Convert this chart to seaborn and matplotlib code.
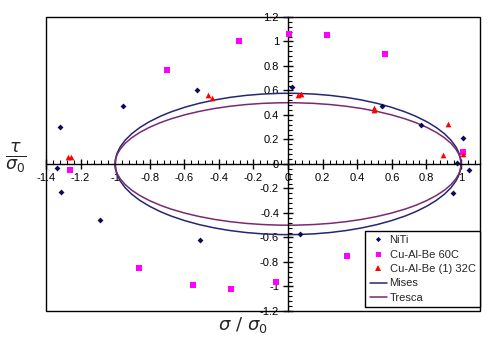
import numpy as np
import pandas as pd
import seaborn as sns
import matplotlib
matplotlib.use("Agg")
import matplotlib.pyplot as plt
from matplotlib.patches import Ellipse, Rectangle
from matplotlib.lines import Line2D
from matplotlib.ticker import MultipleLocator, FormatStrFormatter

# Normalised stress states (sigma/sigma0, tau/sigma0)
niti_sigma = [-1.318, -0.954, -0.526, -1.335, -1.312, -1.087, -0.509,
              0.023, 0.543, 0.769, 1.010, 0.977, 1.046, 0.069, 0.954]
niti_tau = [0.304, 0.477, 0.600, -0.030, -0.230, -0.460, -0.625,
            0.625, 0.476, 0.320, 0.214, 0.008, -0.050, -0.575, -0.240]

cab60_sigma = [-0.283, -0.700, -1.260, 0.006, 0.225, 0.561, 1.010,
               -0.861, -0.549, -0.329, -0.069, 0.341]
cab60_tau = [1.000, 0.770, -0.050, 1.060, 1.050, 0.895, 0.100,
             -0.846, -0.986, -1.020, -0.960, -0.750]

cab32_sigma = [-1.270, -1.258, -0.462, -0.439, 0.058, 0.075, 0.497,
               0.497, 0.925, 0.896, 1.010]
cab32_tau = [0.060, 0.060, 0.560, 0.540, 0.567, 0.570, 0.460,
             0.440, 0.330, 0.070, 0.080]

series_names = ["NiTi", "Cu-Al-Be 60C", "Cu-Al-Be (1) 32C"]
series_colors = ["#0a0a5a", "#ff00ff", "#ff0000"]
series_markers = ["D", "s", "^"]
series_area = [9, 14, 17]
series_sizes = [2.6, 3.6, 4.2]

# Yield criteria: semi-axes of the ellipses in (sigma, tau)
mises_axes = (1.0, 0.577)
tresca_axes = (1.0, 0.5)
mises_color = "#262673"
tresca_color = "#7a2a6e"

frames = [
    pd.DataFrame({"sigma": niti_sigma, "tau": niti_tau, "series": series_names[0]}),
    pd.DataFrame({"sigma": cab60_sigma, "tau": cab60_tau, "series": series_names[1]}),
    pd.DataFrame({"sigma": cab32_sigma, "tau": cab32_tau, "series": series_names[2]}),
]

sns.set_style("white")
plt.rcParams["font.family"] = ["Liberation Sans", "DejaVu Sans"]

fig = plt.figure(figsize=(5.0, 3.47), dpi=100)
ax = fig.add_axes([0.092, 0.104, 0.868, 0.847])

# Yield surfaces
for (a, b), col in [(mises_axes, mises_color), (tresca_axes, tresca_color)]:
    ax.add_patch(Ellipse((0, 0), 2 * a, 2 * b, fill=False, edgecolor=col,
                         linewidth=1.1, zorder=2))

for frame, col, mk, area in zip(frames, series_colors, series_markers, series_area):
    sns.scatterplot(data=frame, x="sigma", y="tau", color=col, marker=mk,
                    s=area, linewidth=0, legend=False, ax=ax, zorder=3)

ax.set_xlim(-1.4, 1.11)
ax.set_ylim(-1.2, 1.2)

# Axes through the origin, with a full frame around the plot
for side in ("left", "bottom"):
    ax.spines[side].set_position(("data", 0))
    ax.spines[side].set_color("black")
    ax.spines[side].set_linewidth(1.0)
for side in ("top", "right"):
    ax.spines[side].set_visible(False)
ax.add_patch(Rectangle((0, 0), 1, 1, transform=ax.transAxes, fill=False,
                       edgecolor="black", linewidth=1.0, clip_on=False, zorder=5))

ax.xaxis.set_major_locator(MultipleLocator(0.2))
ax.xaxis.set_minor_locator(MultipleLocator(0.04))
ax.yaxis.set_major_locator(MultipleLocator(0.2))
ax.yaxis.set_minor_locator(MultipleLocator(0.04))
ax.xaxis.set_major_formatter(FormatStrFormatter("%g"))
ax.yaxis.set_major_formatter(FormatStrFormatter("%g"))
ax.tick_params(which="major", direction="inout", length=7, width=1.0,
               labelsize=8, colors="black", pad=3)
ax.tick_params(which="minor", direction="in", length=3, width=0.8, colors="black")
ax.tick_params(axis="x", which="both", bottom=True, top=False)
ax.tick_params(axis="y", which="both", left=True, right=False)
ax.grid(False)

ax.set_xlabel("")
ax.set_ylabel("")
fig.text(0.486, 0.063, r"$\sigma\ /\ \sigma_0$", ha="center", va="center", fontsize=13)
fig.text(0.032, 0.545, r"$\frac{\tau}{\sigma_0}$", ha="center", va="center", fontsize=18)

handles = [Line2D([], [], linestyle="none", marker=m, color=c, markersize=ms,
                  markeredgewidth=0)
           for m, c, ms in zip(series_markers, series_colors, series_sizes)]
handles += [Line2D([], [], color=mises_color, linewidth=1.1),
            Line2D([], [], color=tresca_color, linewidth=1.1)]
labels = series_names + ["Mises", "Tresca"]
leg = ax.legend(handles, labels, loc="lower right", bbox_to_anchor=(1.0, 0.012),
                fontsize=8, frameon=True, fancybox=False, framealpha=1,
                edgecolor="black", borderpad=0.4, labelspacing=0.4,
                handlelength=1.6, handletextpad=0.2, borderaxespad=0.0)
leg.get_frame().set_linewidth(1.0)
leg.set_zorder(6)

fig.savefig("out.png", dpi=100)
